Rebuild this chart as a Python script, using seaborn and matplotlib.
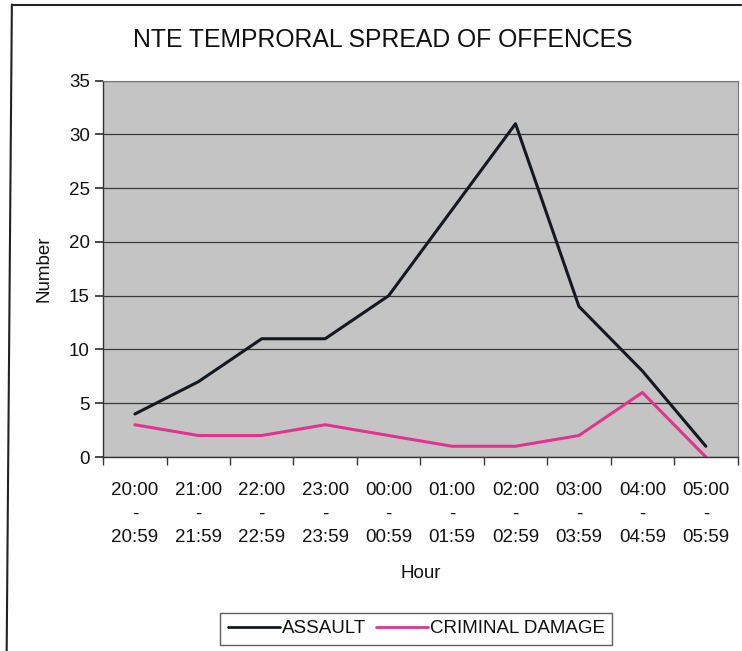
import numpy as np
import pandas as pd
import matplotlib.pyplot as plt
import seaborn as sns
from matplotlib.lines import Line2D

# Data
hours = ['20:00\n-\n20:59', '21:00\n-\n21:59', '22:00\n-\n22:59', '23:00\n-\n23:59',
         '00:00\n-\n00:59', '01:00\n-\n01:59', '02:00\n-\n02:59', '03:00\n-\n03:59',
         '04:00\n-\n04:59', '05:00\n-\n05:59']
assault = [4, 7, 11, 11, 15, 23, 31, 14, 8, 1]
criminal_damage = [3, 2, 2, 3, 2, 1, 1, 2, 6, 0]

df = pd.DataFrame({'Hour': hours, 'ASSAULT': assault, 'CRIMINAL DAMAGE': criminal_damage})
long = df.melt(id_vars='Hour', var_name='Offence', value_name='Number')
long['pos'] = long['Hour'].map({h: i for i, h in enumerate(hours)})

sns.set_theme(style='white')
plt.rcParams['font.family'] = ['Liberation Sans', 'DejaVu Sans']
plt.rcParams['text.color'] = '#111111'
plt.rcParams['axes.labelcolor'] = '#111111'
plt.rcParams['xtick.color'] = '#111111'
plt.rcParams['ytick.color'] = '#111111'

fig = plt.figure(figsize=(7.42, 6.51), dpi=100)
ax = fig.add_axes([0.139, 0.298, 0.855, 0.578])
ax.set_facecolor('#c4c4c4')

sns.lineplot(data=long, x='pos', y='Number', hue='Offence',
             palette={'ASSAULT': '#15181f', 'CRIMINAL DAMAGE': '#e0358f'},
             linewidth=2.2, ax=ax, legend=False)

ax.set_xlim(-0.5, len(hours) - 0.5)
ax.set_ylim(0, 35)
ax.set_yticks(range(0, 36, 5))
ax.set_xticks(np.arange(len(hours)))
ax.set_xticklabels(hours, linespacing=1.5)
ax.set_xticks(np.arange(len(hours) + 1) - 0.5, minor=True)
ax.tick_params(axis='x', which='major', length=0, pad=18, labelsize=13.5)
ax.tick_params(axis='x', which='minor', length=6, color='#333333', direction='out', bottom=True)
ax.tick_params(axis='y', length=6, color='#333333', direction='out', left=True, labelsize=13.5)
ax.grid(axis='y', color='#3a3a3a', linewidth=0.9)
for s in ['top', 'right']:
    ax.spines[s].set_color('#777777')
    ax.spines[s].set_linewidth(0.8)
for s in ['left', 'bottom']:
    ax.spines[s].set_color('#333333')
    ax.spines[s].set_linewidth(1.0)

ax.set_xlabel('Hour', fontsize=13.5, labelpad=14)
ax.set_ylabel('Number', fontsize=13.5, labelpad=12)

fig.text(0.516, 0.938, 'NTE TEMPRORAL SPREAD OF OFFENCES', ha='center', va='center', fontsize=17.8)

handles = [Line2D([], [], color='#15181f', linewidth=2),
           Line2D([], [], color='#e0358f', linewidth=2)]
leg = fig.legend(handles, ['ASSAULT', 'CRIMINAL DAMAGE'], loc='center', bbox_to_anchor=(0.561, 0.034),
                 ncol=2, frameon=True, fancybox=False, fontsize=13.5, handlelength=2.8,
                 handletextpad=0.1, columnspacing=0.5, borderpad=0.4)
leg.get_frame().set_edgecolor('#333333')
leg.get_frame().set_linewidth(1.0)

# frame lines of the scanned chart
fig.add_artist(Line2D([0.016, 0.999], [0.993, 0.993], color='#222222', linewidth=1.5))
fig.add_artist(Line2D([0.016, 0.009], [0.993, 0.0], color='#222222', linewidth=1.5))

fig.savefig('out.png', dpi=100)
